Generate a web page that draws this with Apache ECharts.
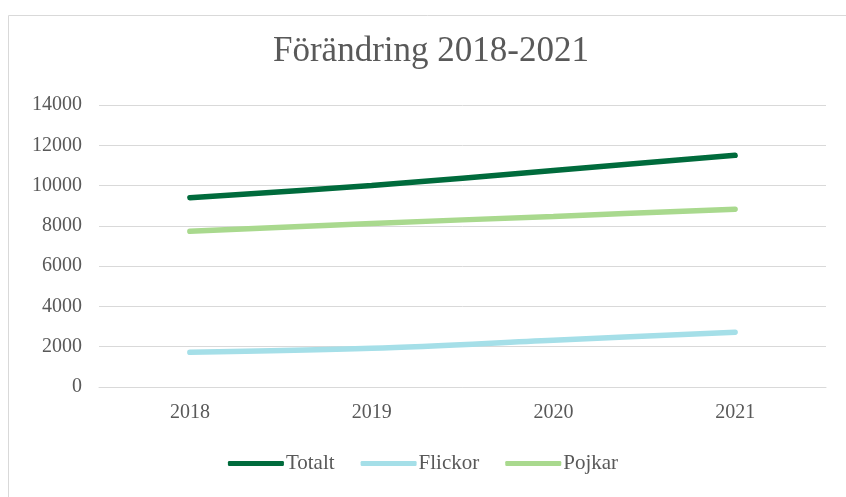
<!DOCTYPE html>
<html>
<head>
<meta charset="utf-8">
<script src="https://cdn.jsdelivr.net/npm/echarts@6/dist/echarts.min.js"></script>
<style>
  html, body { margin: 0; padding: 0; background: #fff; }
  #main { width: 846px; height: 497px; }
</style>
</head>
<body>
<div id="main"></div>
<script>
const years = ['2018', '2019', '2020', '2021'];
const totalt = [9400, 10000, 10750, 11500];
const flickor = [1720, 1920, 2320, 2720];
const pojkar = [7730, 8120, 8470, 8830];

const chart = echarts.init(document.getElementById('main'));
const font = '"Liberation Serif", "DejaVu Serif", serif';

const option = {
  animation: false,
  graphic: [{
    type: 'rect',
    shape: { x: 8.5, y: 15.5, width: 845, height: 490 },
    style: { fill: 'none', stroke: '#d9d9d9', lineWidth: 1 },
    silent: true
  }],
  title: {
    text: 'Förändring 2018-2021',
    left: 268,
    top: 29,
    textStyle: { fontFamily: font, fontSize: 35, fontWeight: 'normal', color: '#595959' }
  },
  color: ['#006B3C', '#A5DFE8', '#A9D98E'],
  legend: {
    data: ['Totalt', 'Flickor', 'Pojkar'],
    bottom: 18,
    left: 'center',
    icon: 'roundRect',
    itemWidth: 56,
    itemHeight: 5,
    itemGap: 26,
    textStyle: { fontFamily: font, fontSize: 21, color: '#595959', padding: [0, 0, 0, -3] }
  },
  grid: { left: 99, right: 20, top: 105, bottom: 110 },
  xAxis: {
    type: 'category',
    data: years,
    axisLine: { lineStyle: { color: '#d9d9d9' } },
    axisTick: { show: false },
    axisLabel: { fontFamily: font, fontSize: 20, color: '#595959', margin: 16 }
  },
  yAxis: {
    type: 'value',
    min: 0,
    max: 14000,
    interval: 2000,
    axisLabel: { fontFamily: font, fontSize: 20, color: '#595959', margin: 17, formatter: v => String(v) },
    splitLine: { lineStyle: { color: '#d9d9d9', width: 1 } }
  },
  series: [{
    name: 'Totalt',
    type: 'line',
    smooth: 0.35,
    symbol: 'none',
    lineStyle: { width: 5.5, cap: 'round' },
    data: totalt
  }, {
    name: 'Flickor',
    type: 'line',
    smooth: 0.35,
    symbol: 'none',
    lineStyle: { width: 5.5, cap: 'round' },
    data: flickor
  }, {
    name: 'Pojkar',
    type: 'line',
    smooth: 0.35,
    symbol: 'none',
    lineStyle: { width: 5.5, cap: 'round' },
    data: pojkar
  }]
};
chart.setOption(option);
</script>
</body>
</html>
